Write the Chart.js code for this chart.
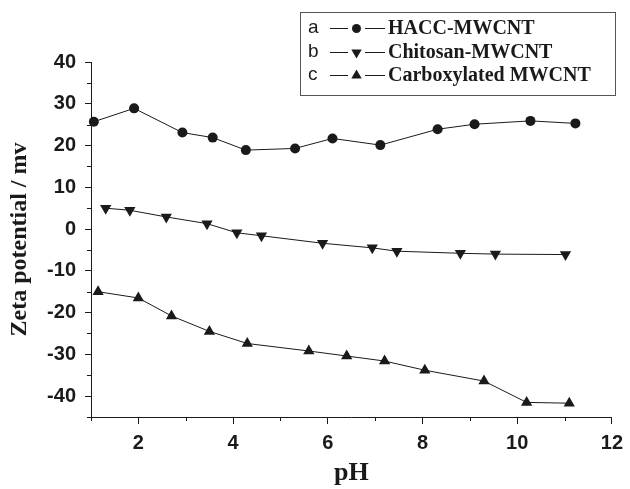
<!DOCTYPE html>
<html><head><meta charset="utf-8">
<script src="https://cdn.jsdelivr.net/npm/chart.js@4"></script>
<style>html,body{margin:0;padding:0;background:#fff}#wrap{width:630px;height:489px;position:relative}</style>
</head><body><div id="wrap"><canvas id="c" width="630" height="489"></canvas></div>
<script>
const phA = [1.06, 1.91, 2.93, 3.57, 4.27, 5.31, 6.10, 7.11, 8.32, 9.10, 10.28, 11.23];
const zetaA = [25.7, 28.9, 23.1, 21.9, 18.9, 19.3, 21.7, 20.1, 23.9, 25.1, 25.9, 25.3];
const phB = [1.31, 1.82, 2.59, 3.45, 4.08, 4.60, 5.89, 6.94, 7.46, 8.80, 9.54, 11.02];
const zetaB = [5.0, 4.5, 2.9, 1.3, -0.9, -1.6, -3.4, -4.5, -5.3, -5.8, -6.0, -6.1];
const phC = [1.15, 2.0, 2.7, 3.5, 4.3, 5.6, 6.4, 7.2, 8.05, 9.3, 10.2, 11.1];
const zetaC = [-15.0, -16.5, -20.8, -24.5, -27.4, -29.2, -30.4, -31.6, -33.8, -36.4, -41.5, -41.7];
const legendLetters = ['a', 'b', 'c'];
const seriesNames = ['HACC-MWCNT', 'Chitosan-MWCNT', 'Carboxylated MWCNT'];
const xMajorTicks = [2, 4, 6, 8, 10, 12];
const xMinorTicks = [1, 3, 5, 7, 9, 11];
const yMajorTicks = [-40, -30, -20, -10, 0, 10, 20, 30, 40];
const yMinorTicks = [-45, -35, -25, -15, -5, 5, 15, 25, 35];
const xTitle = 'pH';
const yTitle = 'Zeta potential / mv';

const INK = '#1a1a1a';
const toPts = (xs, ys) => xs.map((x, i) => ({x: x, y: ys[i]}));
const styles = [
  {pointStyle: 'circle', radius: 5, rotation: 0},
  {pointStyle: 'triangle', radius: 6.5, rotation: 180},
  {pointStyle: 'triangle', radius: 6.5, rotation: 0}
];
const seriesData = [toPts(phA, zetaA), toPts(phB, zetaB), toPts(phC, zetaC)];

const datasets = seriesData.map((d, i) => ({
  label: seriesNames[i],
  data: d,
  showLine: true,
  borderColor: INK,
  borderWidth: 1,
  backgroundColor: INK,
  pointBackgroundColor: INK,
  pointBorderColor: INK,
  pointBorderWidth: 0,
  pointStyle: styles[i].pointStyle,
  pointRadius: styles[i].radius,
  pointRotation: styles[i].rotation,
  clip: false
}));

const extras = {
  id: 'extras',
  afterDraw(chart) {
    const ctx = chart.ctx;
    const xs = chart.scales.x, ys = chart.scales.y;
    const ca = chart.chartArea;
    ctx.save();
    ctx.strokeStyle = INK;
    ctx.lineWidth = 1;
    ctx.beginPath();
    xMinorTicks.forEach(v => {
      const px = Math.round(xs.getPixelForValue(v)) + 0.5;
      ctx.moveTo(px, ca.bottom); ctx.lineTo(px, ca.bottom + 4);
    });
    yMinorTicks.forEach(v => {
      const py = Math.round(ys.getPixelForValue(v)) + 0.5;
      ctx.moveTo(ca.left - 4, py); ctx.lineTo(ca.left, py);
    });
    ctx.stroke();

    // legend box
    ctx.strokeStyle = '#555';
    ctx.strokeRect(300.5, 12.5, 315, 83);
    const rows = [28, 52, 75];
    rows.forEach((ry, i) => {
      ctx.fillStyle = INK;
      ctx.font = '19px "Liberation Sans", Arial, sans-serif';
      ctx.textBaseline = 'middle';
      ctx.textAlign = 'left';
      ctx.fillText(legendLetters[i], 308, ry);
      ctx.strokeStyle = INK;
      ctx.lineWidth = 1;
      ctx.beginPath();
      ctx.moveTo(330, ry + 0.5); ctx.lineTo(348, ry + 0.5);
      ctx.moveTo(365, ry + 0.5); ctx.lineTo(385, ry + 0.5);
      ctx.stroke();
      ctx.fillStyle = INK;
      Chart.helpers.drawPoint(ctx, {pointStyle: styles[i].pointStyle, radius: i === 0 ? 4.5 : 6, rotation: styles[i].rotation, borderWidth: 0}, 356.5, ry + 0.5);
      ctx.fillStyle = INK;
      ctx.font = 'bold 20px "Liberation Serif", "Times New Roman", serif';
      ctx.fillText(seriesNames[i], 388, ry + 1);
    });
    ctx.restore();
  }
};

new Chart(document.getElementById('c'), {
  type: 'scatter',
  data: {datasets},
  options: {
    responsive: false,
    devicePixelRatio: 1,
    animation: false,
    layout: {padding: {top: 62, right: 12, left: 0, bottom: 0}},
    plugins: {legend: {display: false}, tooltip: {enabled: false}},
    scales: {
      x: {
        type: 'linear', min: 1, max: 12,
        afterBuildTicks: s => { s.ticks = xMajorTicks.map(v => ({value: v})); },
        afterFit: s => { s.height = 72; },
        grid: {display: true, drawOnChartArea: false, tickLength: 7, tickColor: INK, tickWidth: 1},
        border: {display: true, color: INK, width: 1},
        ticks: {color: INK, padding: 7, font: {family: '"Liberation Sans", Arial, sans-serif', weight: 'bold', size: 20}, maxRotation: 0, autoSkip: false},
        title: {display: true, text: xTitle, color: INK, padding: {top: 0, bottom: 0}, font: {family: '"Liberation Serif", "Times New Roman", serif', weight: 'bold', size: 26}}
      },
      y: {
        type: 'linear', min: -45, max: 40,
        afterBuildTicks: s => { s.ticks = yMajorTicks.map(v => ({value: v})); },
        afterFit: s => { s.width = 91; },
        grid: {display: true, drawOnChartArea: false, tickLength: 6, tickColor: INK, tickWidth: 1},
        border: {display: true, color: INK, width: 1},
        ticks: {color: INK, padding: 9, font: {family: '"Liberation Sans", Arial, sans-serif', weight: 'bold', size: 20}, autoSkip: false},
        title: {display: true, text: yTitle, color: INK, padding: {top: 5, bottom: 0}, font: {family: '"Liberation Serif", "Times New Roman", serif', weight: 'bold', size: 24}}
      }
    }
  },
  plugins: [extras]
});
</script>
</body></html>
